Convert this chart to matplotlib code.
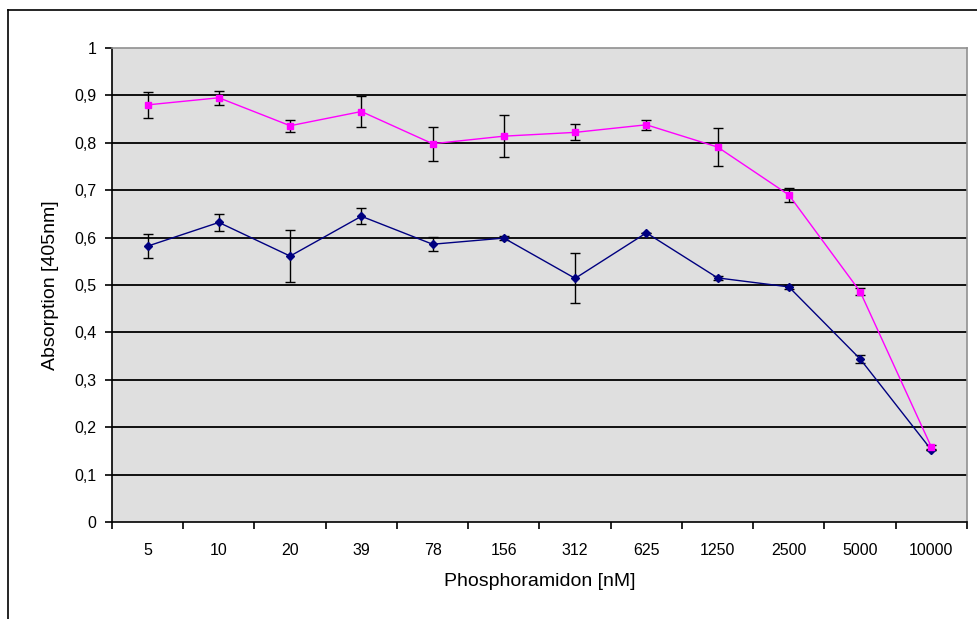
import matplotlib.pyplot as plt
from matplotlib.lines import Line2D

concentrations = ["5", "10", "20", "39", "78", "156", "312", "625", "1250", "2500", "5000", "10000"]

pink_values = [0.880, 0.895, 0.836, 0.866, 0.798, 0.814, 0.822, 0.838, 0.791, 0.690, 0.486, 0.158]
pink_errors = [0.027, 0.015, 0.013, 0.033, 0.036, 0.045, 0.017, 0.011, 0.040, 0.014, 0.008, 0.004]

navy_values = [0.582, 0.632, 0.561, 0.645, 0.586, 0.599, 0.514, 0.610, 0.515, 0.496, 0.344, 0.152]
navy_errors = [0.025, 0.018, 0.055, 0.017, 0.015, 0.004, 0.053, 0.0, 0.005, 0.004, 0.008, 0.0]

y_ticks = [0, 0.1, 0.2, 0.3, 0.4, 0.5, 0.6, 0.7, 0.8, 0.9, 1.0]

plt.rcParams['font.family'] = ['Liberation Sans', 'DejaVu Sans']

fig = plt.figure(figsize=(9.78, 6.19), dpi=100)
ax = fig.add_axes([112 / 978, 1 - 522 / 619, 855 / 978, 474 / 619])
ax.set_facecolor('#DFDFDF')

x = list(range(len(concentrations)))

ax.errorbar(x, navy_values, yerr=navy_errors, color='#000080', ecolor='black',
            elinewidth=1, capsize=3.5, capthick=1, lw=1, marker='D', ms=4.5,
            mec='#000080', mfc='#000080', zorder=3)
ax.errorbar(x, pink_values, yerr=pink_errors, color='#FF00FF', ecolor='black',
            elinewidth=1, capsize=3.5, capthick=1, lw=1, marker='s', ms=5,
            mec='#FF00FF', mfc='#FF00FF', zorder=4)

ax.set_xlim(-0.5, len(concentrations) - 0.5)
ax.set_ylim(0, 1)

ax.set_yticks(y_ticks)
ax.set_yticklabels([('%g' % v).replace('.', ',') for v in y_ticks], fontsize=11.5)
for v in y_ticks[1:-1]:
    ax.axhline(v, color='black', lw=1.3, zorder=1)

ax.set_xticks([i - 0.5 for i in range(len(concentrations) + 1)])
ax.set_xticklabels([])
ax.set_xticks(x, minor=True)
ax.set_xticklabels(concentrations, minor=True, fontsize=11.5)
ax.tick_params(axis='x', which='major', direction='out', length=5, width=1.2)
ax.tick_params(axis='x', which='minor', length=0, pad=15)
ax.tick_params(axis='y', direction='out', length=5, width=1.2, pad=6)

for side in ['top', 'right']:
    ax.spines[side].set_color('#909090')
    ax.spines[side].set_linewidth(1.2)
for side in ['left', 'bottom']:
    ax.spines[side].set_color('black')
    ax.spines[side].set_linewidth(1.2)

ax.set_xlabel("Phosphoramidon [nM]", fontsize=14, labelpad=11)
ax.set_ylabel("Absorption [405nm]", fontsize=14, labelpad=11)

# outer chart border, cut off at the right and bottom
fig.add_artist(Line2D([8 / 978, 8 / 978], [0, 1 - 10 / 619], color='black', lw=1.2))
fig.add_artist(Line2D([8 / 978, 1], [1 - 10 / 619, 1 - 10 / 619], color='black', lw=1.2))

fig.savefig("out.png", dpi=100)
